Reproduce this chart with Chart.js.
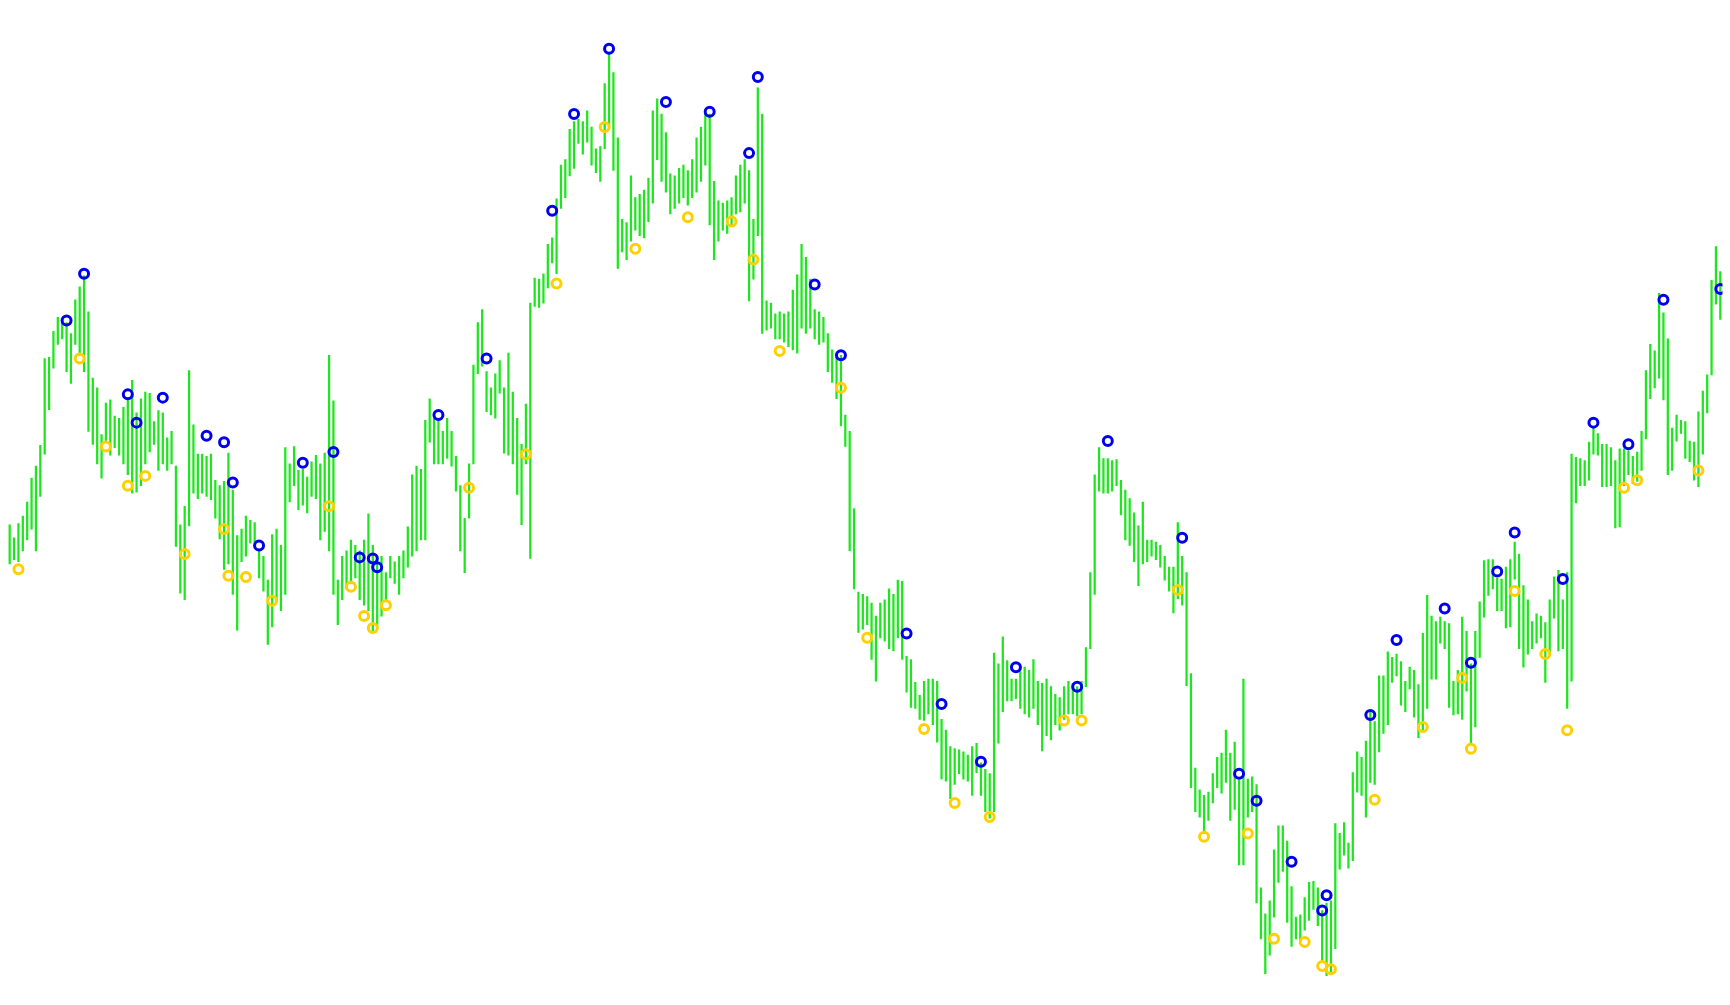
<!DOCTYPE html>
<html>
<head>
<meta charset="utf-8">
<title>Fractal bars</title>
<script src="https://cdn.jsdelivr.net/npm/chart.js@4.4.1/dist/chart.umd.min.js"></script>
<style>
  html, body { margin: 0; padding: 0; background: #ffffff; overflow: hidden; }
  #chart { display: block; }
</style>
</head>
<body>
<canvas id="chart" width="1730" height="1005"></canvas>
<script>
// Bar highs and lows (price points), one entry per bar
const barHighs = [
  524,512,525,532,545,567,578,597,677,678,
  702,715,712,710,700,731,743,753,720,659,
  650,607,636,639,624,622,632,640,657,627,
  640,646,645,619,629,627,604,610,578,524,
  541,666,616,589,589,587,589,565,560,564,
  590,556,514,520,532,528,526,500,495,473,
  515,520,505,595,580,596,574,575,568,582,
  588,580,590,680,638,473,495,500,510,505,
  500,510,534,505,495,495,480,495,490,495,
  500,522,570,578,575,620,640,622,620,610,
  622,610,587,560,530,580,671,710,722,665,
  650,663,675,650,682,646,622,598,635,728,
  751,750,755,782,788,824,855,860,888,895,
  897,895,905,890,870,872,930,958,940,880,
  805,802,845,825,828,832,843,905,916,902,
  885,847,845,852,855,850,860,880,890,902,
  902,840,822,820,822,825,845,855,860,850,
  805,926,902,730,728,718,720,718,720,740,
  754,782,770,750,722,720,715,700,685,678,
  680,625,610,539,462,460,458,452,440,452,
  455,465,460,473,472,403,400,379,367,380,
  382,382,380,345,335,320,318,317,315,312,
  320,323,305,299,295,406,396,421,399,382,
  382,389,393,390,400,380,378,382,375,368,
  365,375,380,378,375,380,411,480,570,595,
  585,585,583,584,565,556,548,535,523,545,
  510,510,508,505,495,485,485,526,495,480,
  387,300,280,275,278,295,310,314,335,314,
  324,289,382,290,292,285,190,166,178,225,
  247,247,233,191,163,165,181,195,196,190,
  169,176,178,249,240,250,231,296,315,310,
  325,353,343,385,385,407,402,405,398,380,
  393,390,377,424,459,440,435,439,435,433,
  380,390,439,426,396,426,453,491,492,492,
  475,474,485,492,508,497,468,455,435,442,
  440,434,455,476,482,455,480,589,586,585,
  583,600,613,608,598,598,595,583,594,594,
  592,587,591,610,666,690,684,737,719,695,
  613,625,620,619,601,600,628,647,662,749,
  780,757
];

const barLows = [
  488,492,490,500,510,520,500,550,589,630,
  668,690,695,665,654,690,680,665,610,598,
  580,567,601,588,595,588,580,570,553,554,
  560,580,591,598,574,580,574,580,504,461,
  455,523,553,548,553,550,547,530,511,483,
  488,460,427,490,495,507,508,475,463,414,
  430,455,445,460,545,560,538,542,535,550,
  548,510,518,500,460,432,455,465,470,475,
  455,450,445,425,430,440,455,475,470,460,
  475,485,495,500,510,510,600,580,580,580,
  585,578,555,500,480,530,580,663,670,628,
  625,622,645,590,588,580,552,524,580,493,
  725,724,728,742,765,755,815,825,845,852,
  875,865,876,855,848,840,870,890,850,760,
  775,768,785,795,790,788,803,820,860,840,
  830,810,815,820,825,818,825,830,840,855,
  800,768,785,795,792,800,810,812,820,730,
  750,790,700,703,705,695,695,692,688,685,
  682,705,700,705,695,690,692,665,655,640,
  615,596,500,465,425,428,432,400,380,420,
  417,410,408,420,400,370,356,355,345,344,
  350,340,324,290,288,272,285,295,290,288,
  275,296,275,260,254,260,323,352,362,362,
  364,355,350,347,355,340,316,330,326,340,
  335,345,350,350,348,350,375,410,460,555,
  553,553,555,560,533,510,505,490,468,488,
  490,495,492,485,473,463,443,456,450,376,
  282,260,255,240,252,268,282,277,287,252,
  262,211,211,255,260,176,143,111,128,163,
  195,205,158,136,143,142,151,160,170,155,
  121,109,112,134,207,220,208,215,278,275,
  255,287,285,315,332,340,379,385,358,352,
  373,347,328,335,355,382,382,415,410,356,
  349,350,345,371,323,338,402,439,459,465,
  445,445,429,430,474,410,393,405,410,415,
  420,379,406,438,408,410,355,380,544,560,
  560,565,589,588,559,559,560,521,522,560,
  570,562,564,574,603,640,650,659,639,570,
  574,601,608,585,582,565,559,589,627,662,
  727,713
];

// Upper fractal marks: bar index and price
const upIndex = [13,17,27,29,35,45,49,51,57,67,74,80,83,84,98,109,124,129,137,150,
  160,169,171,184,190,205,213,222,230,244,251,268,281,285,293,300,301,311,317,328,
  334,340,344,355,362,370,378,391];
const upPrice = [712,755,644,618,641,606,600,563,505,581,591,494,493,485,625,677,813,902,962,913,
  904,866,936,745,680,424,359,306,393,375,601,512,295,270,214,169,183,349,418,447,
  397,481,517,474,618,598,731,741];

// Lower fractal marks: bar index and price
const downIndex = [2,16,22,27,31,40,49,50,54,60,73,78,81,83,86,105,118,125,136,143,
  155,165,170,176,190,196,209,216,224,241,245,267,273,283,289,296,300,302,312,323,
  332,334,344,351,356,369,372,386];
const downPrice = [483,677,596,560,569,497,520,477,476,454,541,467,440,429,450,558,589,746,890,778,
  807,803,768,684,650,420,336,268,255,344,344,464,237,240,143,140,118,115,271,338,
  383,318,463,405,335,558,565,574];

const bars = barHighs.map((h, i) => ({ x: i, y: [barLows[i], h] }));
const ups = upIndex.map((x, k) => ({ x: x, y: upPrice[k] }));
const downs = downIndex.map((x, k) => ({ x: x, y: downPrice[k] }));

const ctx = document.getElementById('chart').getContext('2d');
new Chart(ctx, {
  type: 'bar',
  data: {
    datasets: [
      {
        type: 'scatter',
        label: 'Up fractals',
        data: ups,
        order: 0,
        pointStyle: 'circle',
        pointRadius: 4.5,
        pointBorderWidth: 3,
        pointBorderColor: '#0000ee',
        pointBackgroundColor: 'rgba(0,0,0,0)'
      },
      {
        type: 'scatter',
        label: 'Down fractals',
        data: downs,
        order: 0,
        pointStyle: 'circle',
        pointRadius: 4.5,
        pointBorderWidth: 3,
        pointBorderColor: '#ffd000',
        pointBackgroundColor: 'rgba(0,0,0,0)'
      },
      {
        type: 'bar',
        label: 'Bars',
        data: bars,
        order: 1,
        backgroundColor: '#1ee61e',
        borderWidth: 0,
        barThickness: 1.6,
        grouped: false
      }
    ]
  },
  options: {
    responsive: false,
    animation: false,
    layout: { padding: 0 },
    scales: {
      x: { type: 'linear', offset: false, min: -0.5, max: 391.5, display: false },
      y: { min: 89, max: 1000, display: false }
    },
    plugins: {
      legend: { display: false },
      tooltip: { enabled: false }
    }
  }
});
</script>
</body>
</html>
